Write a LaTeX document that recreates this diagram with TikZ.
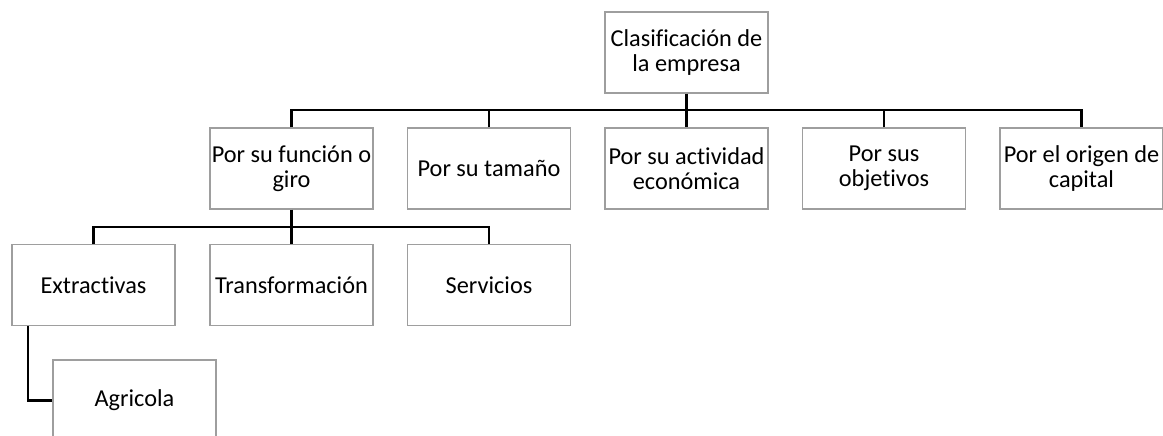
\documentclass[tikz,border=0pt]{standalone}
\usepackage{fontspec}
\setmainfont[Ligatures = NoCommon]{Carlito}
\definecolor{boxgray}{rgb}{0.62, 0.62, 0.62}

\begin{document}
\begin{tikzpicture}[x = 1pt, y = -1pt,
  box/.style = {draw = boxgray, line width = 1.2pt, minimum width = 163pt,
    minimum height = 81pt, inner sep = 0pt, align = center,
    font = \fontsize{24.3}{24.5}\selectfont},
  conn/.style = {line width = 2.6pt, black}]

\useasboundingbox (0, 0) rectangle (1163, 436);

\node [box] (clas) at (686.5, 52.5) {Clasificación de\\la empresa};

\node [box] (funcion) at (291.5, 168.5) {Por su función o\\giro};
\node [box] (tamano) at (489, 168.5) {Por su tamaño};
\node [box] (actividad) at (686.5, 168.5) {Por su actividad\\económica};
\node [box] (objetivos) at (884, 168.5) {Por sus\\objetivos};
\node [box] (origen) at (1081.5, 168.5) {Por el origen de\\capital};

\node [box] (extr) at (93.5, 285) {Extractivas};
\node [box] (transf) at (291.5, 285) {Transformación};
\node [box] (serv) at (489, 285) {Servicios};

\node [box] (agri) at (134.5, 400.5) {Agricola};

\draw [conn] (clas.south) -- (actividad.north);
\draw [conn] (funcion.north) -- ++(0, -17.5) -| (origen.north);
\draw [conn] (tamano.north) -- ++(0, -17.5);
\draw [conn] (objetivos.north) -- ++(0, -17.5);

\draw [conn] (funcion.south) -- (transf.north);
\draw [conn] (extr.north) -- ++(0, -17) -| (serv.north);

\draw [conn] ([xshift = -65.5pt] extr.south) |- (agri.west);

\end{tikzpicture}
\end{document}
